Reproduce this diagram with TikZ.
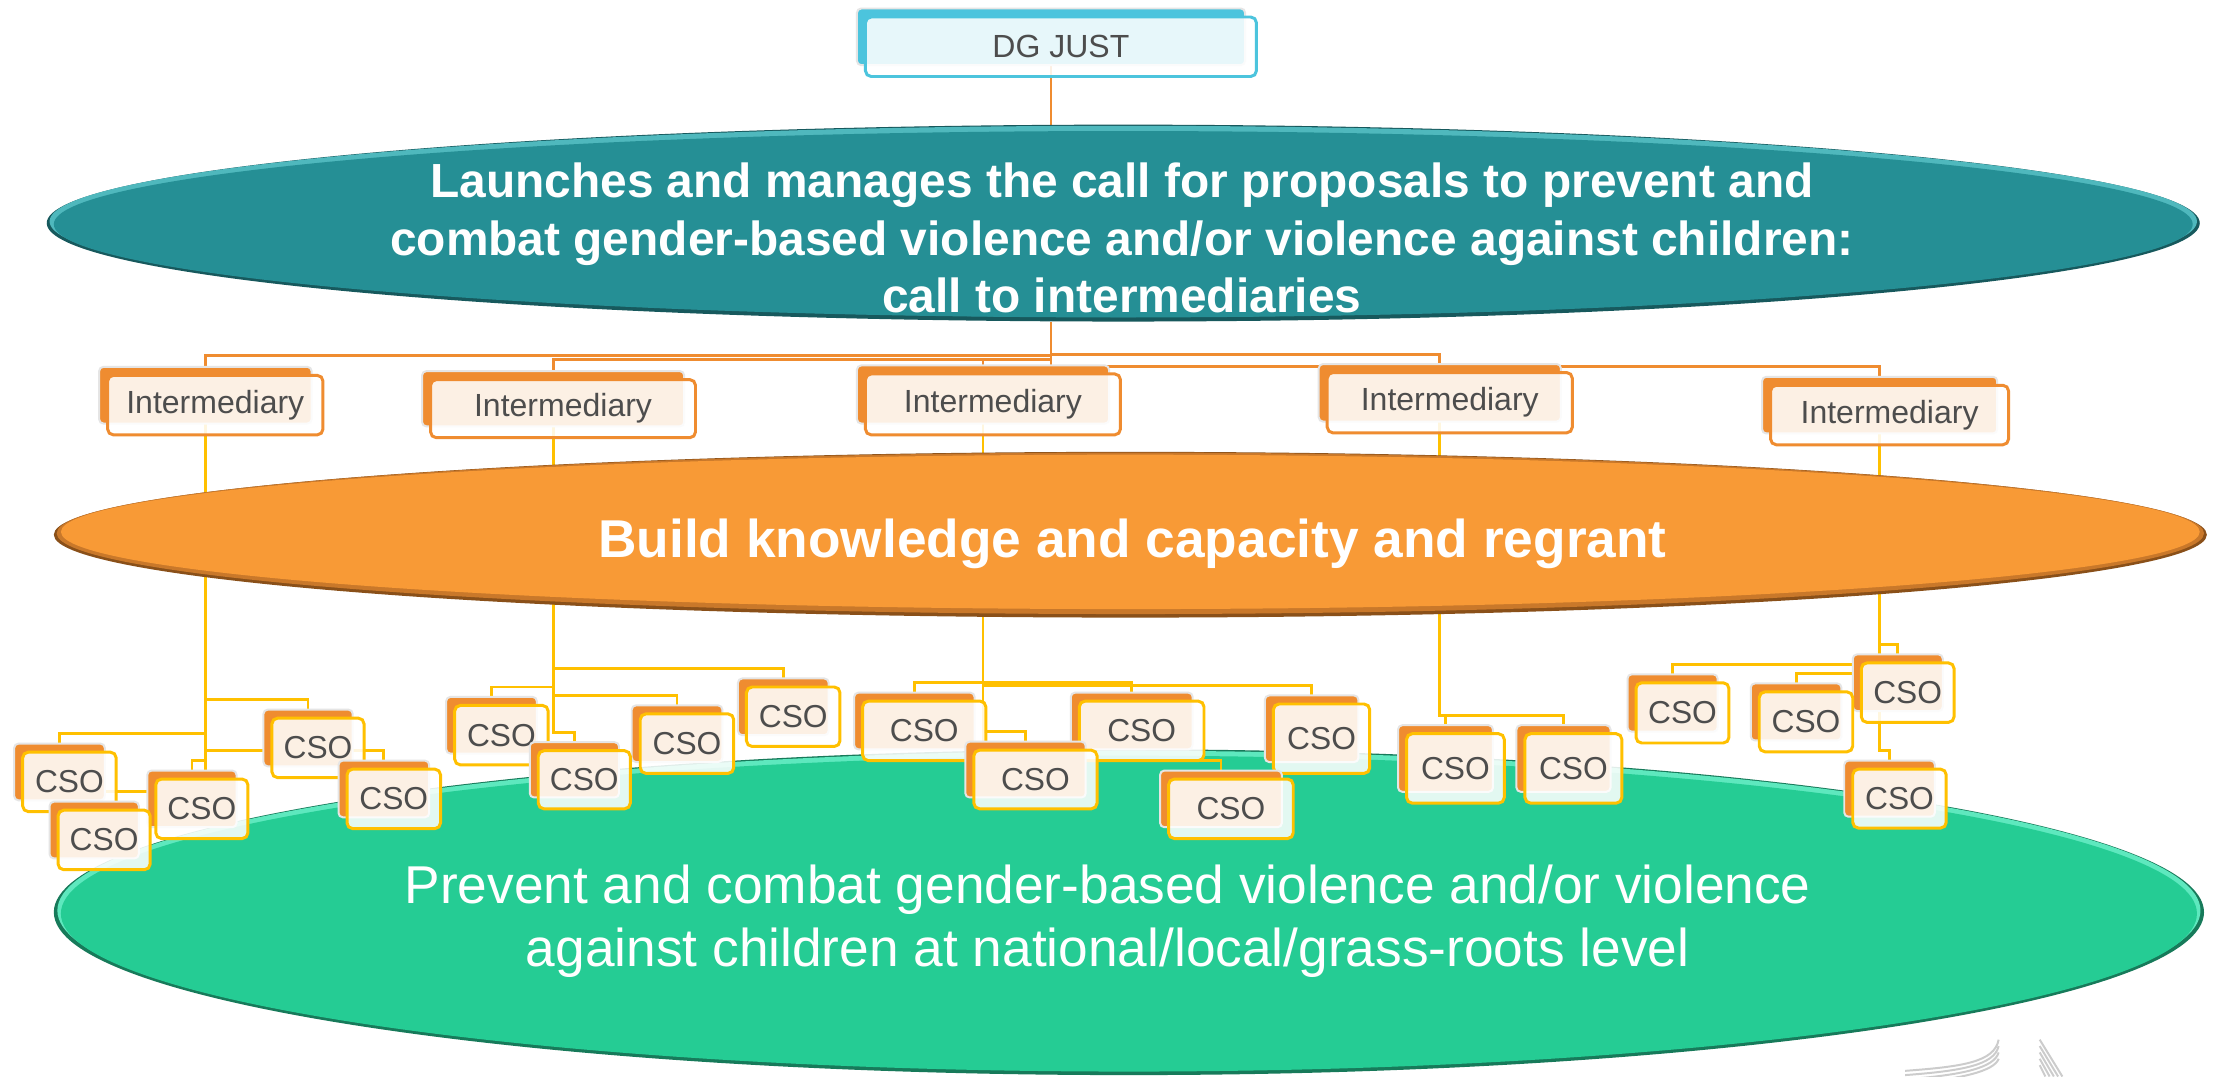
\documentclass[tikz,border=0pt]{standalone}
\usepackage{fontspec}
\setmainfont{Liberation Sans}
\usetikzlibrary{calc,shapes.geometric}
\pgfdeclarelayer{bg}
\pgfdeclarelayer{lines}
\pgfdeclarelayer{ell}
\pgfsetlayers{bg,lines,ell,main}

\definecolor{orgline}{HTML}{EF8C30}
\definecolor{yelline}{HTML}{FFC000}
\definecolor{boxorg}{HTML}{EF8C30}
\definecolor{dgcyan}{HTML}{4CC4DD}
\definecolor{txtgray}{HTML}{4D4D4D}
\definecolor{tealmain}{HTML}{258F95}
\definecolor{teallight}{HTML}{4FB8BD}
\definecolor{tealdark}{HTML}{17595D}
\definecolor{orgmain}{HTML}{F89A36}
\definecolor{orgmid}{HTML}{C9782A}
\definecolor{orgdark}{HTML}{8A5019}
\definecolor{grnmain}{HTML}{25CC94}
\definecolor{grnlight}{HTML}{5EE8BE}
\definecolor{grndark}{HTML}{177A5A}

\tikzset{
  oline/.style={draw=orgline, line width=1pt},
  yline/.style={draw=yelline, line width=1pt},
  backbase/.style={draw=black!10, line width=0.7pt, rounded corners=1.5pt, inner sep=0pt, outer sep=0pt},
  frontbase/.style={fill=white, fill opacity=0.87, text opacity=1, line width=1.05pt, rounded corners=2pt, inner sep=0pt, outer sep=0pt, text=txtgray},
  csoback/.style={backbase, fill=boxorg},
  csofront/.style={frontbase, draw=yelline, font=\fontsize{11.2}{13}\selectfont},
  intback/.style={backbase, fill=boxorg},
  intfront/.style={frontbase, draw=boxorg, font=\fontsize{11.3}{13}\selectfont},
  dgback/.style={backbase, fill=dgcyan},
  dgfront/.style={frontbase, draw=dgcyan, font=\fontsize{11.3}{13}\selectfont},
  elltext/.style={text=white, align=center, inner sep=0pt},
  ellnode/.style={ellipse, inner sep=0pt, outer sep=0pt, draw=none},
  logo/.style={draw=black!20, line width=0.7pt}
}

% name, cx, cy, w, h, kind, text  (front box centre and size)
\newcommand\ubox[7]{%
  \node[#6back, minimum width=#4*0.5pt-1pt, minimum height=#5*0.5pt-1pt] (#1b) at (#2-7,#3-7) {};
  \node[#6front, minimum width=#4*0.5pt, minimum height=#5*0.5pt] (#1) at (#2,#3) {#7};
}

\begin{document}
\begin{tikzpicture}[x=0.5pt, y=-0.5pt]
\useasboundingbox (0,0) rectangle (1568,760);

% ---------- ellipses ----------
\begin{pgfonlayer}{bg}
  \fill[white] (0,0) rectangle (1568,760);
  % bottom green ellipse
  \node[ellnode, minimum width=759pt, minimum height=115pt] (bot) at (797,644) {};
  \fill[grndark] (797,644) ellipse (759 and 115);
  \fill[grnlight] (797,642.8) ellipse (756.5 and 112.8);
  \fill[grnmain] (797,645) ellipse (754 and 111.5);
  \node[elltext, font=\fontsize{18.8}{22.2}\selectfont] at (782,650.3)
    {Prevent and combat gender-based violence and/or violence\\against children at national/local/grass-roots level};
\end{pgfonlayer}

\begin{pgfonlayer}{ell}
  % top teal ellipse
  \node[ellnode, minimum width=760pt, minimum height=69.5pt] (top) at (793,157.5) {};
  \fill[tealdark] (793,157.5) ellipse (760 and 69.5);
  \fill[teallight] (793,156.3) ellipse (758 and 67.5);
  \fill[tealmain] (793,158.3) ellipse (755 and 65.8);
  \node[elltext, font=\bfseries\fontsize{16.9}{20.25}\selectfont] at (792,168.2)
    {Launches and manages the call for proposals to prevent and\\combat gender-based violence and/or violence against children:\\call to intermediaries};
  % middle orange ellipse
  \node[ellnode, minimum width=760pt, minimum height=58.5pt] (mid) at (798,377.5) {};
  \fill[orgdark] (798,377.5) ellipse (760 and 58.5);
  \fill[orgmid] (798,376.5) ellipse (758 and 57);
  \fill[orgmain] (798,375.5) ellipse (755 and 54.5);
  \node[elltext, font=\bfseries\fontsize{18.8}{22}\selectfont, anchor=base] at (799.5,393.5)
    {Build knowledge and capacity and regrant};
\end{pgfonlayer}

% ---------- boxes ----------
\ubox{dg}{749}{33}{276}{42}{dg}{DG JUST}
\ubox{int1}{152}{286}{152}{42}{int}{Intermediary}
\ubox{int2}{397.5}{288.5}{187}{41}{int}{Intermediary}
\ubox{int3}{701}{285.5}{180}{43}{int}{Intermediary}
\ubox{int4}{1023.5}{284.3}{173}{42.6}{int}{Intermediary}
\ubox{int5}{1334}{293}{168}{42}{int}{Intermediary}

\ubox{e3}{1346.8}{489}{65.5}{42}{cso}{CSO}
\ubox{e1}{1187.8}{503.3}{65.6}{42.5}{cso}{CSO}
\ubox{b4}{560}{506}{66}{42}{cso}{CSO}
\ubox{e2}{1275}{509.6}{66}{42.3}{cso}{CSO}
\ubox{cc1}{652.5}{516}{87}{42}{cso}{CSO}
\ubox{cc3}{806}{516}{88}{42}{cso}{CSO}
\ubox{b1}{354}{519}{66}{42}{cso}{CSO}
\ubox{cc5}{933}{521.5}{68}{49}{cso}{CSO}
\ubox{b3}{485}{525}{66}{42}{cso}{CSO}
\ubox{c3}{224.5}{528}{65}{42}{cso}{CSO}
\ubox{d1}{1027.5}{542.5}{69}{49}{cso}{CSO}
\ubox{d2}{1110.8}{542.5}{68.4}{49}{cso}{CSO}
\ubox{cc2}{731}{550.3}{87}{41.4}{cso}{CSO}
\ubox{b2}{412.5}{550.5}{65}{41}{cso}{CSO}
\ubox{c1}{49}{552}{66}{42}{cso}{CSO}
\ubox{e4}{1341}{563.8}{66}{41.6}{cso}{CSO}
\ubox{c4}{278}{564}{66}{42}{cso}{CSO}
\ubox{cc4}{869}{571}{88}{42}{cso}{CSO}
\ubox{c5}{142.5}{571}{65}{42}{cso}{CSO}
\ubox{c6}{73.5}{593}{65}{42}{cso}{CSO}

% ---------- connectors ----------
\begin{pgfonlayer}{lines}
  \coordinate (tt) at (dgb.south |- top.south);
  \draw[oline] (dgb.south) -- (dgb.south |- top.north);
  \draw[oline] (int1b.north) -- ++(0,-8) -| (tt);
  \draw[oline] (int2b.north) -- ++(0,-8) -| (tt);
  \draw[oline] (int3b.north) -- ++(0,-4) -| (tt);
  \draw[oline] (int4b.north) -- ++(0,-6.5) -| (tt);
  \draw[oline] (int5b.north) -- ++(0,-7.5) -| (tt);

  \foreach \k in {c1,c3,c4,c5,c6}
    \draw[yline] (\k b.north) -- ++(0,-7) -| (int1b.south);
  \foreach \k in {b1,b2,b3,b4}
    \draw[yline] (\k b.north) -- ++(0,-7) -| (int2b.south);
  \foreach \k in {cc1,cc2,cc3,cc4,cc5}
    \draw[yline] (\k b.north) -- ++(0,-7) -| (int3b.south);
  \foreach \k in {d1,d2}
    \draw[yline] (\k b.north) -- ++(0,-7) -| (int4b.south);
  \foreach \k in {e1,e2,e3,e4}
    \draw[yline] (\k b.north) -- ++(0,-7) -| (int5b.south);
\end{pgfonlayer}

% ---------- logo fragment ----------
\foreach \k in {0,1,2,3}
  \draw[logo] (1345,756+3*\k) .. controls (1385,753+3*\k) and (1408,750+2*\k) .. (1411,734+4.5*\k);
\foreach \k in {0,1,2,3,4}
  \draw[logo] (1440,734+4.5*\k) -- (1456-3*\k,760);
\end{tikzpicture}
\end{document}
